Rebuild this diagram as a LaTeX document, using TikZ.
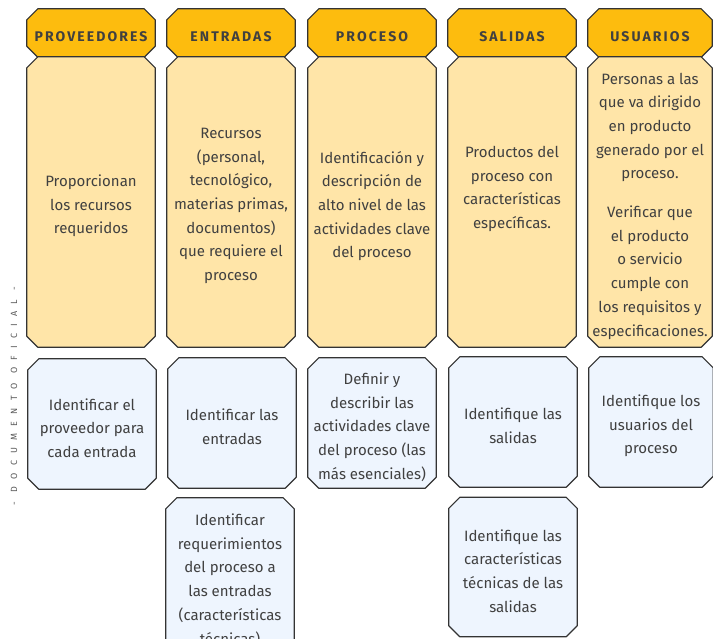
\documentclass[tikz,border=0pt]{standalone}
\usepackage{fontspec}
\setmainfont{Fira Sans}
\newfontfamily\headfont[LetterSpace=15]{Fira Sans}
\newfontfamily\sidefont[LetterSpace=80]{Fira Sans}
\usetikzlibrary{backgrounds, positioning}
\definecolor{myheadyellow}{RGB}{253, 188, 14}
\definecolor{mypaleyellow}{RGB}{255, 229, 168}
\definecolor{mypaleblue}{RGB}{238, 245, 254}
\definecolor{myborder}{RGB}{51, 51, 51}
\definecolor{mytext}{RGB}{64, 64, 64}
\definecolor{mygray}{RGB}{90, 90, 90}
% chamfered outline round a node (text sits 4pt below the middle)
\newcommand{\chamferpath}[1]{([xshift=11pt, yshift=4pt]#1.north west) -- ([xshift=-11pt, yshift=4pt]#1.north east)
  -- ([yshift=-7pt]#1.north east) -- ([yshift=15pt]#1.south east)
  -- ([xshift=-11pt, yshift=4pt]#1.south east) -- ([xshift=11pt, yshift=4pt]#1.south west)
  -- ([yshift=15pt]#1.south west) -- ([yshift=-7pt]#1.north west) -- cycle}

\begin{document}
\begin{tikzpicture}[x=1pt, y=-1pt,
  box/.style={rectangle, inner sep=0pt, minimum width=128pt,
    align=center, text=mytext, font=\fontsize{15}{23.7}\selectfont},
  headbox/.style={box, minimum height=48pt, font=\headfont\bfseries\fontsize{14}{16}\selectfont},
  descbox/.style={box, minimum height=290pt},
  taskbox/.style={box},
  chamf/.style={draw=myborder, line width=1.2pt, line join=round}]
  \useasboundingbox (0,0) rectangle (713,638);
  % Side mark
  \node[rotate=90, text=mygray, font=\sidefont\fontsize{9}{10}\selectfont] (side) at (14,396) {- DOCUMENTO OFICIAL -};
  % Headers
  \node[headbox] (hprov) at (91,37) {PROVEEDORES};
  \node[headbox] (hent) at (231,37) {ENTRADAS};
  \node[headbox] (hpro) at (372,37) {PROCESO};
  \node[headbox] (hsal) at (512,37) {SALIDAS};
  \node[headbox, minimum width=124pt] (husu) at (650,37) {USUARIOS};
  % Descriptions
  \node[descbox] (dprov) at (91,206) {Proporcionan\\los recursos\\requeridos};
  \node[descbox] (dent) at (231,206) {Recursos\\(personal,\\tecnológico,\\materias primas,\\documentos)\\que requiere el\\proceso};
  \node[descbox] (dpro) at (372,206) {Identificación y\\descripción de\\alto nivel de las\\actividades clave\\del proceso};
  \node[descbox] (dsal) at (512,206) {};
  \node[box] (tsal) at (512,189) {Productos del\\proceso con\\características\\específicas.};
  \node[descbox, minimum width=124pt] (dusu) at (650,206) {Personas a las\\que va dirigido\\en producto\\generado por el\\proceso.\\[15pt]Verificar que\\el producto\\o servicio\\cumple con\\los requisitos y\\especificaciones.};
  % Tasks
  \node[taskbox, minimum height=130pt] (tprov) at (92,428) {Identificar el\\proveedor para\\cada entrada};
  \node[taskbox, minimum height=130pt] (tent) at (232,427) {Identificar las\\entradas};
  \node[taskbox, minimum height=130pt] (tpro) at (372,427) {Definir y\\describir las\\actividades clave\\del proceso (las\\más esenciales)};
  \node[taskbox, minimum height=130pt] (tsalid) at (513,426) {Identifique las\\salidas};
  \node[taskbox, minimum height=130pt, minimum width=124pt] (tusu) at (651,426) {Identifique los\\usuarios del\\proceso};
  \node[taskbox, minimum height=156pt] (treq) at (230,580) {Identificar\\requerimientos\\del proceso a\\las entradas\\(características\\técnicas)};
  \node[taskbox, minimum height=139pt] (tcar) at (513,571) {Identifique las\\características\\técnicas de las\\salidas};
  % Outlines
  \begin{scope}[on background layer]
    \foreach \n/\c in {hprov/myheadyellow, hent/myheadyellow, hpro/myheadyellow, hsal/myheadyellow, husu/myheadyellow,
      dprov/mypaleyellow, dent/mypaleyellow, dpro/mypaleyellow, dsal/mypaleyellow, dusu/mypaleyellow,
      tprov/mypaleblue, tent/mypaleblue, tpro/mypaleblue, tsalid/mypaleblue, tusu/mypaleblue, treq/mypaleblue, tcar/mypaleblue}
      \draw[chamf, fill=\c] \chamferpath{\n};
  \end{scope}
\end{tikzpicture}
\end{document}
